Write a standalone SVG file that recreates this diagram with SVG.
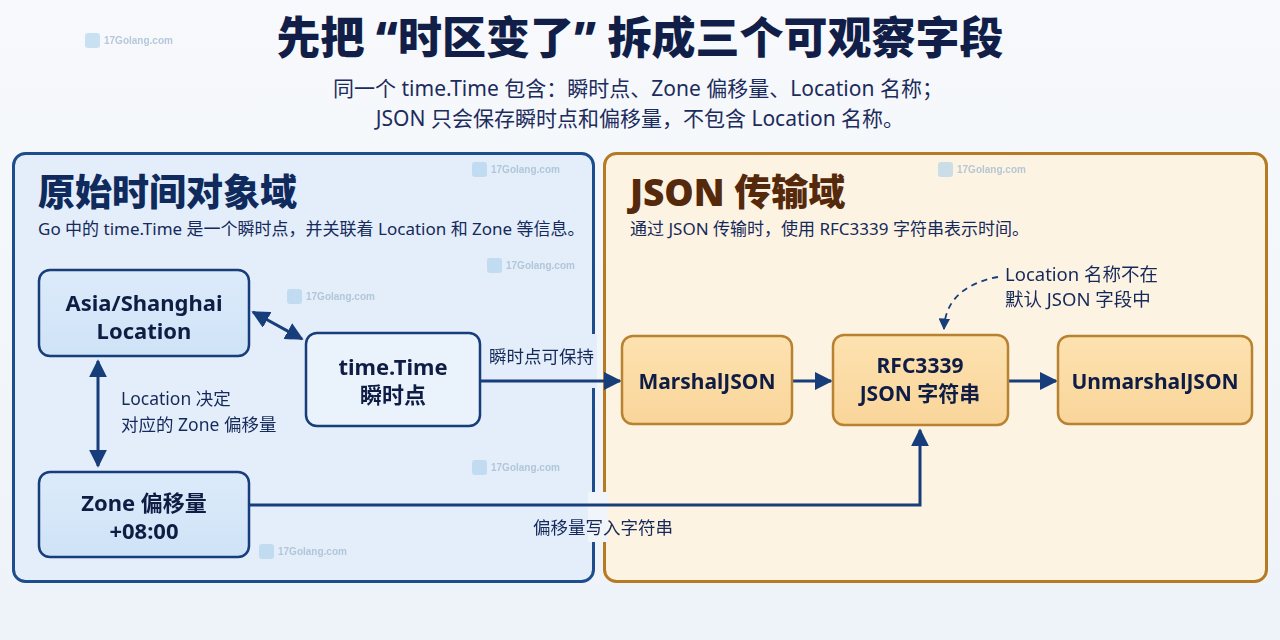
<svg xmlns="http://www.w3.org/2000/svg" width="1280" height="640" viewBox="0 0 1280 640">
  <defs>
    <linearGradient id="bg" x1="0" y1="0" x2="0" y2="1">
      <stop offset="0" stop-color="#f7f9fc"/>
      <stop offset="1" stop-color="#eef3f9"/>
    </linearGradient>
    <linearGradient id="blueNode" x1="0" y1="0" x2="0" y2="1">
      <stop offset="0" stop-color="#dcebfa"/>
      <stop offset="1" stop-color="#cfe3f7"/>
    </linearGradient>
    <linearGradient id="orangeNode" x1="0" y1="0" x2="0" y2="1">
      <stop offset="0" stop-color="#fde2b0"/>
      <stop offset="1" stop-color="#f9d59a"/>
    </linearGradient>
    <marker id="arr" viewBox="0 0 10 10" refX="9" refY="5" markerWidth="6" markerHeight="6" orient="auto-start-reverse" markerUnits="strokeWidth">
      <path d="M0,0 L10,5 L0,10 Z" fill="#173d7a"/>
    </marker>
    <marker id="arrs" viewBox="0 0 10 10" refX="9" refY="5" markerWidth="6.5" markerHeight="6.5" orient="auto" markerUnits="strokeWidth">
      <path d="M0,0 L10,5 L0,10 Z" fill="#173d7a"/>
    </marker>
    <style>
      text { font-family: "Noto Sans", "Noto Sans CJK SC", sans-serif; }
      .title { font-size: 44px; font-weight: 900; fill: #101e48; }
      .sub { font-size: 21px; fill: #1c2c5c; }
      .ptitle { font-size: 37px; font-weight: 900; }
      .psub { font-size: 17px; fill: #15295a; }
      .nodeB { fill: url(#blueNode); stroke: #173d7a; stroke-width: 2.5; }
      .nodeL { fill: #eaf3fc; stroke: #173d7a; stroke-width: 2.5; }
      .nodeO { fill: url(#orangeNode); stroke: #b98230; stroke-width: 2.5; }
      .nt { font-size: 22px; font-weight: 700; fill: #0f1d45; text-anchor: middle; }
      .ntO { font-size: 21px; }
      .lbl { font-size: 17.5px; fill: #15295a; }
      .lblR { font-size: 18.5px; }
      .conn { stroke: #173d7a; stroke-width: 3; fill: none; }
      .wm { font-size: 10px; fill: #a9bfd3; font-weight: 700; font-family: "Liberation Sans", sans-serif; }
      .wmi { fill: #a9d0ea; opacity: 0.7; }
    </style>
  </defs>

  <rect x="0" y="0" width="1280" height="640" fill="url(#bg)"/>

  <!-- Heading -->
  <g id="heading">
    <text class="title" x="640" y="54" text-anchor="middle">先把 “时区变了” 拆成三个可观察字段</text>
    <text class="sub" x="638" y="96" text-anchor="middle">同一个 time.Time 包含：瞬时点、Zone 偏移量、Location 名称；</text>
    <text class="sub" x="640" y="126" text-anchor="middle">JSON 只会保存瞬时点和偏移量，不包含 Location 名称。</text>
  </g>

  <!-- Panels -->
  <g id="panel-left">
    <rect x="13.5" y="153.5" width="580" height="428" rx="12" fill="#e3eefa" stroke="#1d4d8c" stroke-width="3"/>
    <text class="ptitle" x="38" y="206" fill="#0f2a5c">原始时间对象域</text>
    <text class="psub" x="38" y="235">Go 中的 time.Time 是一个瞬时点，并关联着 Location 和 Zone 等信息。</text>
  </g>
  <g id="panel-right">
    <rect x="604.5" y="153.5" width="662" height="428" rx="12" fill="#fdf3e2" stroke="#b57a22" stroke-width="3"/>
    <text class="ptitle" x="630" y="206" fill="#55290b">JSON 传输域</text>
    <text class="psub" x="630" y="235">通过 JSON 传输时，使用 RFC3339 字符串表示时间。</text>
  </g>

  <!-- border gaps where labels cross -->
  <rect x="588" y="334" width="9" height="54" fill="#e3eefa"/>
  <rect x="588" y="492" width="20" height="50" fill="#f1f5fa"/>

  <!-- Watermarks -->
  <g id="watermarks" opacity="0.85">
    <g transform="translate(85,33)"><rect class="wmi" width="15" height="15" rx="3"/><text class="wm" x="19" y="11">17Golang.com</text></g>
    <g transform="translate(472,162)"><rect class="wmi" width="15" height="15" rx="3"/><text class="wm" x="19" y="11">17Golang.com</text></g>
    <g transform="translate(487,258)"><rect class="wmi" width="15" height="15" rx="3"/><text class="wm" x="19" y="11">17Golang.com</text></g>
    <g transform="translate(287,289)"><rect class="wmi" width="15" height="15" rx="3"/><text class="wm" x="19" y="11">17Golang.com</text></g>
    <g transform="translate(472,460)"><rect class="wmi" width="15" height="15" rx="3"/><text class="wm" x="19" y="11">17Golang.com</text></g>
    <g transform="translate(259,544)"><rect class="wmi" width="15" height="15" rx="3"/><text class="wm" x="19" y="11">17Golang.com</text></g>
    <g transform="translate(938,162)"><rect class="wmi" width="15" height="15" rx="3"/><text class="wm" x="19" y="11">17Golang.com</text></g>
    <g transform="translate(1090,346)"><rect class="wmi" width="15" height="15" rx="3"/><text class="wm" x="19" y="11">17Golang.com</text></g>
  </g>

  <!-- Connectors -->
  <g id="connectors">
    <line class="conn" x1="253" y1="312" x2="302" y2="339" marker-start="url(#arr)" marker-end="url(#arr)"/>
    <line class="conn" x1="98" y1="361" x2="98" y2="466" marker-start="url(#arr)" marker-end="url(#arr)"/>
    <line class="conn" x1="480" y1="381" x2="620" y2="381" marker-end="url(#arr)"/>
    <line class="conn" x1="792" y1="381" x2="831" y2="381" marker-end="url(#arr)"/>
    <line class="conn" x1="1008" y1="381" x2="1056" y2="381" marker-end="url(#arr)"/>
    <polyline class="conn" points="249,505 920,505 920,430" marker-end="url(#arr)"/>
    <path d="M998,277 C965,283 945,300 944,329" stroke="#173d7a" stroke-width="1.8" stroke-dasharray="6,5" fill="none" marker-end="url(#arrs)"/>
    <text class="lbl" x="121" y="405">Location 决定</text>
    <text class="lbl" x="121" y="431">对应的 Zone 偏移量</text>
    <text class="lbl" x="489" y="363">瞬时点可保持</text>
    <text class="lbl" x="533" y="534">偏移量写入字符串</text>
    <text class="lbl lblR" x="1005" y="281">Location 名称不在</text>
    <text class="lbl lblR" x="1005" y="306">默认 JSON 字段中</text>
  </g>

  <!-- Nodes -->
  <g id="node-location">
    <rect class="nodeB" x="39" y="270" width="210" height="86" rx="11"/>
    <text class="nt" x="144" y="311">Asia/Shanghai</text>
    <text class="nt" x="144" y="339">Location</text>
  </g>
  <g id="node-time">
    <rect class="nodeL" x="306" y="333" width="174" height="93" rx="11"/>
    <text class="nt" x="393" y="375">time.Time</text>
    <text class="nt" x="393" y="403">瞬时点</text>
  </g>
  <g id="node-zone">
    <rect class="nodeB" x="39" y="472" width="210" height="85" rx="11"/>
    <text class="nt" x="144" y="511">Zone 偏移量</text>
    <text class="nt" x="144" y="539">+08:00</text>
  </g>
  <g id="node-marshal">
    <rect class="nodeO" x="622" y="336" width="170" height="88" rx="11"/>
    <text class="nt ntO" x="707" y="389">MarshalJSON</text>
  </g>
  <g id="node-rfc">
    <rect class="nodeO" x="833" y="335" width="175" height="90" rx="11"/>
    <text class="nt ntO" x="920" y="373">RFC3339</text>
    <text class="nt ntO" x="920" y="401">JSON 字符串</text>
  </g>
  <g id="node-unmarshal">
    <rect class="nodeO" x="1058" y="336" width="194" height="88" rx="11"/>
    <text class="nt ntO" x="1155" y="389">UnmarshalJSON</text>
  </g>
</svg>
